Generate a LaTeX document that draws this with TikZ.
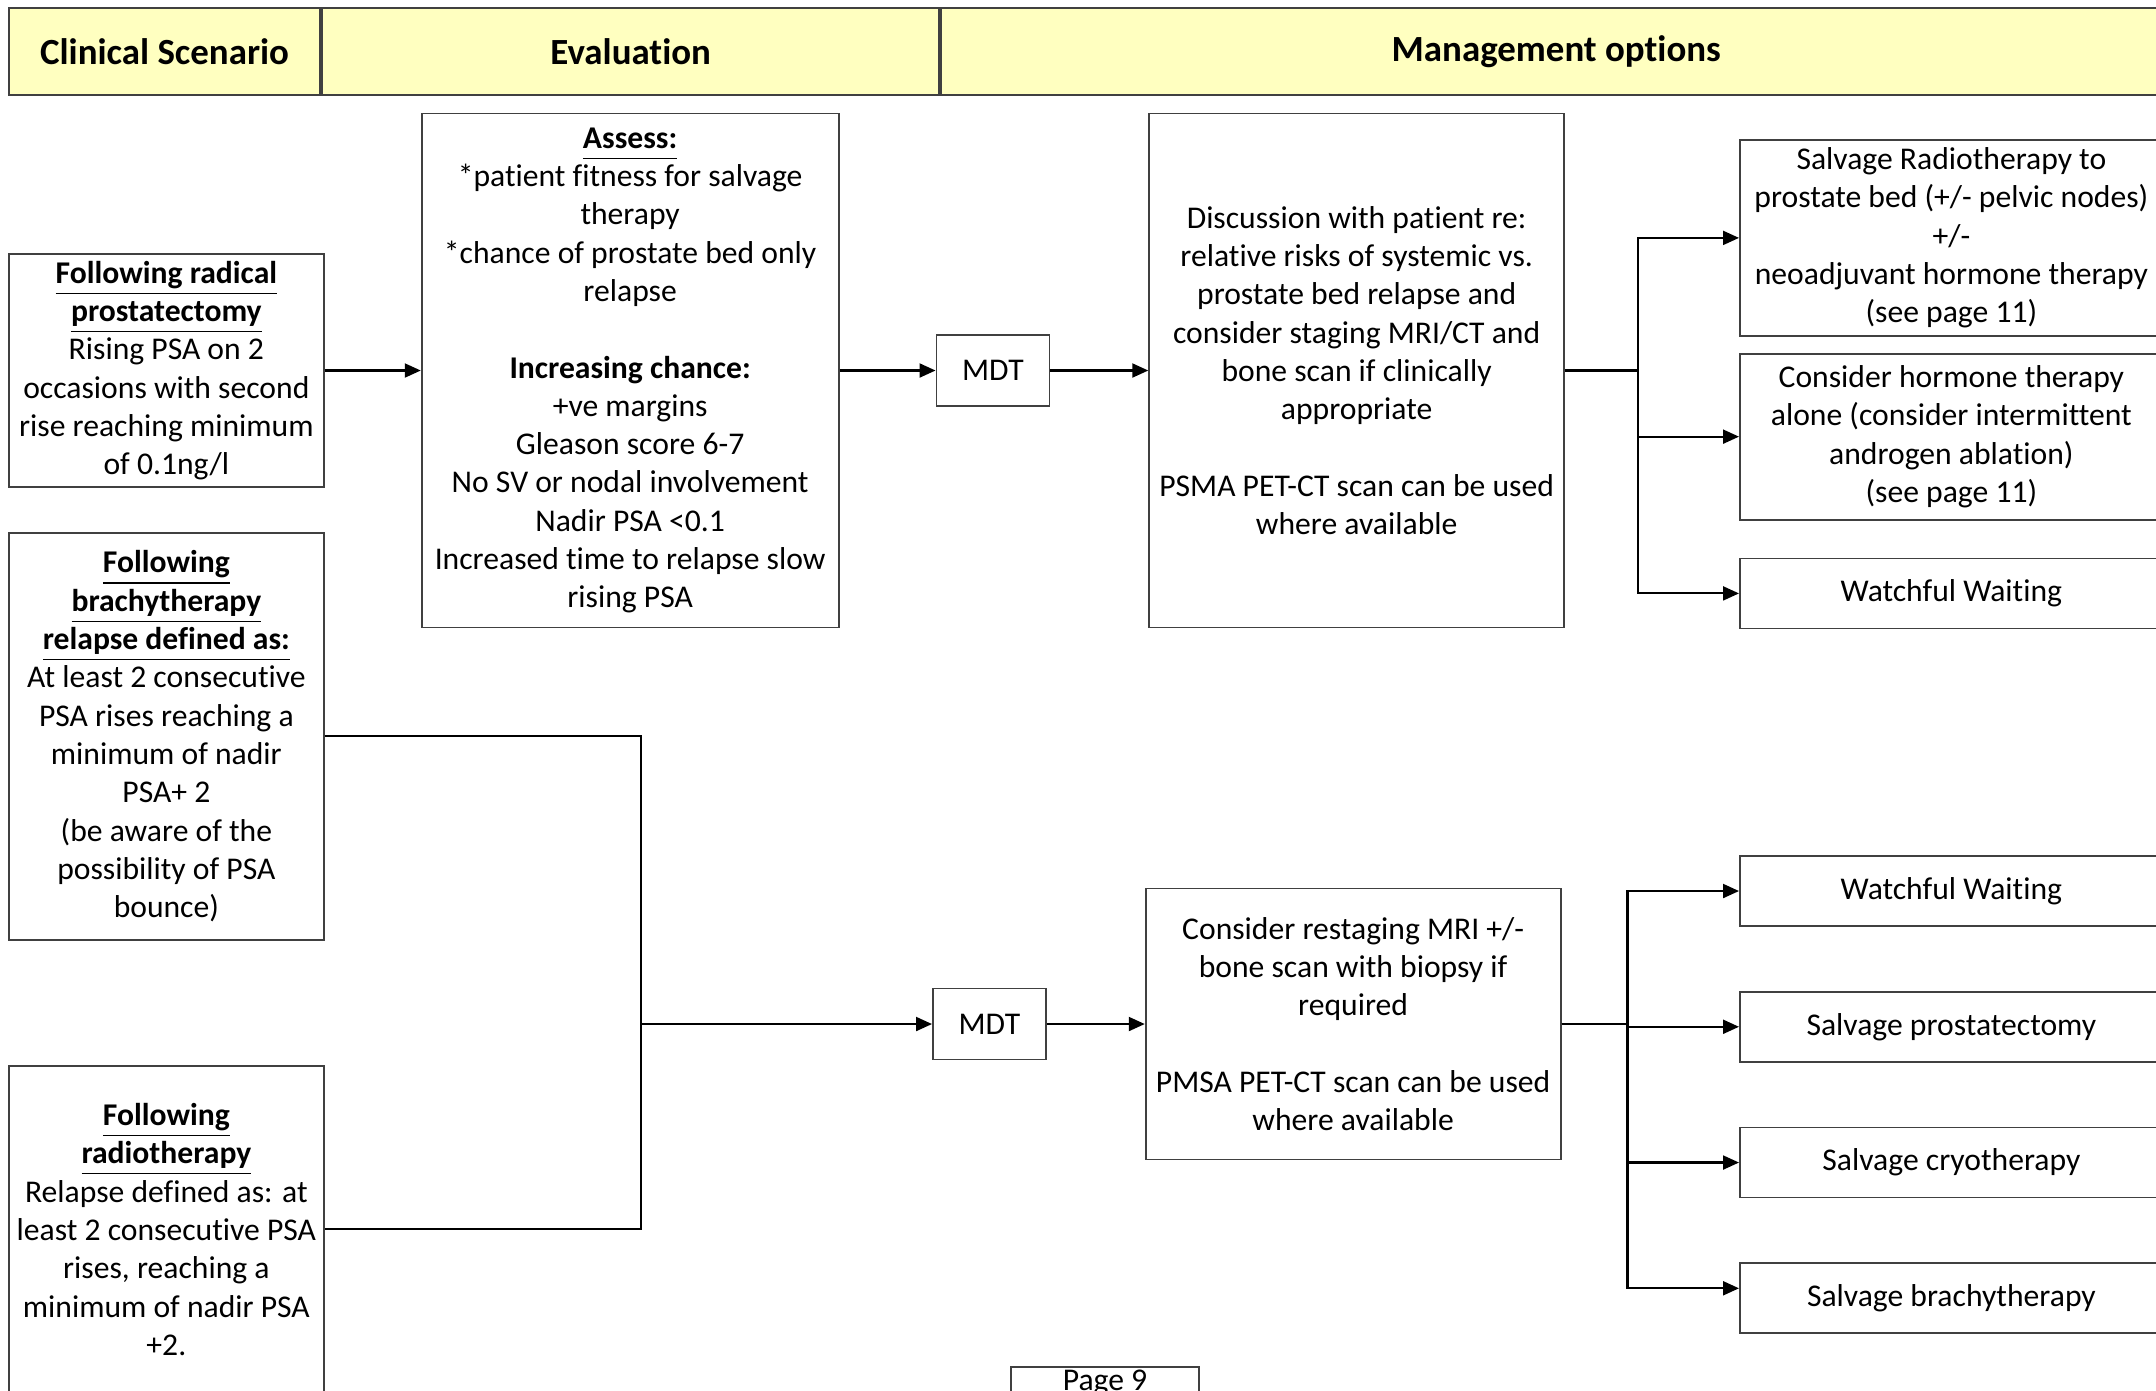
\documentclass[tikz,border=0pt]{standalone}
\usepackage{fontspec}
\setmainfont{Carlito}[Ligatures=NoCommon]
\usetikzlibrary{arrows.meta, positioning}
\definecolor{hdryellow}{HTML}{FFFFC0}
\definecolor{boxgray}{HTML}{404040}
\newcommand{\ulbf}[1]{\underline{\vphantom{y}\textbf{#1}}}

\begin{document}
\begin{tikzpicture}[
    every node/.style={font=\fontsize{9}{10.9}\selectfont},
    hdr/.style={draw=boxgray, fill=hdryellow, line width=0.6pt, minimum height=0.87cm, inner sep=0pt, font=\fontsize{10.5}{12.6}\selectfont\bfseries},
    box/.style={draw=boxgray, line width=0.5pt, align=center, inner xsep=1pt, inner ysep=2pt},
    side/.style={box, minimum width=3.15cm},
    evalbox/.style={box, minimum width=4.17cm, minimum height=5.14cm},
    mdt/.style={box, minimum width=1.13cm, minimum height=0.71cm},
    opt/.style={box, minimum width=4.23cm},
    ar/.style={-{Triangle[length=1.6mm, width=1.4mm]}, line width=0.6pt}
]
\path[use as bounding box] (0,0) rectangle (21.56,-13.90);
\clip (0,0) rectangle (21.56,-13.90);
% ----- header row -----
\node[hdr, minimum width=3.11cm, anchor=north west] (hclin) at (0.08,-0.07) {Clinical Scenario};
\node[hdr, minimum width=6.17cm, right=0pt of hclin] (heval) {Evaluation};
\node[hdr, minimum width=12.3cm, right=0pt of heval] (hmgmt) {Management options};
% ----- clinical scenarios -----
\node[side, minimum height=2.28cm, anchor=north west] (radpro) at (0.08,-2.53)
    {\ulbf{Following radical}\\\ulbf{prostatectomy}\\Rising PSA on 2\\occasions with second\\rise reaching minimum\\of 0.1ng/l};
\node[side, minimum height=4.07cm, anchor=north west] (brachy) at (0.08,-5.32)
    {\ulbf{Following}\\\ulbf{brachytherapy}\\\ulbf{relapse defined as:}\\At least 2 consecutive\\PSA rises reaching a\\minimum of nadir\\PSA+ 2\\(be aware of the\\possibility of PSA\\bounce)};
\node[side, minimum height=3.27cm, anchor=north west] (radio) at (0.08,-10.65)
    {\ulbf{Following}\\\ulbf{radiotherapy}\\Relapse defined as: at\\least 2 consecutive PSA\\rises, reaching a\\minimum of nadir PSA\\+2.};
% ----- evaluation (upper row) -----
\node[evalbox, right=0.96cm of radpro] (assess)
    {\ulbf{Assess:}\\*patient fitness for salvage\\therapy\\*chance of prostate bed only\\relapse\\[10.9pt]
     \textbf{Increasing chance:}\\+ve margins\\Gleason score 6-7\\No SV or nodal involvement\\Nadir PSA <0.1\\Increased time to relapse slow\\rising PSA};
\node[mdt, right=0.96cm of assess] (mdta) {MDT};
\node[evalbox, minimum width=4.15cm, right=0.98cm of mdta] (discuss)
    {Discussion with patient re:\\relative risks of systemic vs.\\prostate bed relapse and\\consider staging MRI/CT and\\bone scan if clinically\\appropriate\\[10.9pt]
     PSMA PET-CT scan can be used\\where available};
% ----- management options (upper row) -----
\node[opt, minimum height=1.96cm, anchor=north west] (salrt) at (17.39,-1.39)
    {Salvage Radiotherapy to\\prostate bed (+/- pelvic nodes)\\+/-\\neoadjuvant hormone therapy\\(see page 11)};
\node[opt, minimum height=1.66cm, below=0.16cm of salrt] (hormone)
    {Consider hormone therapy\\alone (consider intermittent\\androgen ablation)\\(see page 11)};
\node[opt, minimum height=0.70cm, below=0.37cm of hormone] (waita) {Watchful Waiting};
% ----- lower row -----
\node[mdt, anchor=west] (mdtb) at (9.32,-10.24) {MDT};
\node[box, minimum width=4.15cm, minimum height=2.71cm, right=0.98cm of mdtb] (restage)
    {Consider restaging MRI +/-\\bone scan with biopsy if\\required\\[10.9pt]
     PMSA PET-CT scan can be used\\where available};
\node[opt, minimum height=0.70cm, anchor=west] (waitb) at (17.39,-8.91) {Watchful Waiting};
\node[opt, minimum height=0.70cm, below=0.64cm of waitb] (salpro) {Salvage prostatectomy};
\node[opt, minimum height=0.70cm, below=0.64cm of salpro] (salcryo) {Salvage cryotherapy};
\node[opt, minimum height=0.70cm, below=0.64cm of salcryo] (salbrachy) {Salvage brachytherapy};
% page footer
\node[box, minimum width=1.88cm, inner ysep=1pt, anchor=north] (page) at (11.05,-13.66) {Page 9};
% upper arrows
\draw[ar] (radpro) -- (assess);
\draw[ar] (assess) -- (mdta);
\draw[ar] (mdta) -- (discuss);
\draw[ar] (discuss.east) -- ++(0.73,0) |- (salrt.west);
\draw[ar] (discuss.east) -- ++(0.73,0) |- (hormone.west);
\draw[ar] (discuss.east) -- ++(0.73,0) |- (waita.west);
% lower arrows: brachy and radio join into one MDT
\coordinate (join) at (6.41,-10.24);
\draw[line width=0.6pt] (brachy.east) -| (join) |- (radio.east);
\draw[ar] (join) -- (mdtb);
\draw[ar] (mdtb) -- (restage);
\draw[ar] (restage.east) -- ++(0.66,0) |- (waitb.west);
\draw[ar] (restage.east) -- ++(0.66,0) |- (salpro.west);
\draw[ar] (restage.east) -- ++(0.66,0) |- (salcryo.west);
\draw[ar] (restage.east) -- ++(0.66,0) |- ([yshift=0.1cm]salbrachy.west);
\end{tikzpicture}
\end{document}
